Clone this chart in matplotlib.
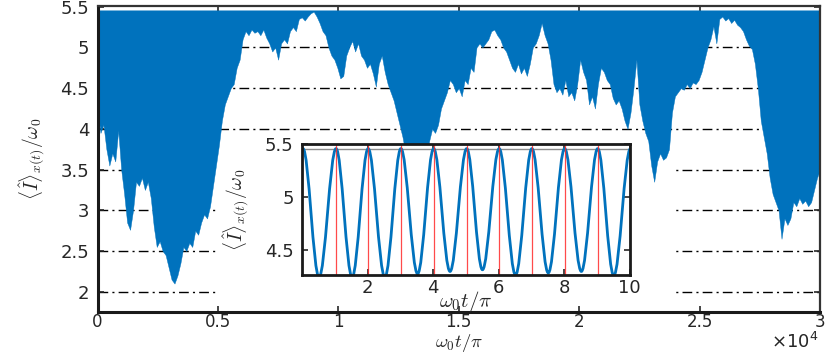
import numpy as np
import matplotlib.pyplot as plt
from matplotlib.path import Path
from matplotlib.patches import PathPatch, Rectangle

# ---------------------------------------------------------------------------
# data
# ---------------------------------------------------------------------------
# main panel: the signal oscillates so fast that it looks like a filled band
# between a (flat) upper level and a ragged lower envelope
t_end = 30000
upper_level = 5.456
lower_env = [
    4.25, 3.95, 4.05, 3.75, 3.55, 3.7, 3.6, 3.98, 3.5, 3.2, 2.85, 2.76,
    3.0, 3.35, 3.3, 3.4, 3.25, 3.35, 3.15, 2.8, 2.55, 2.62, 2.5, 2.45,
    2.3, 2.15, 2.10, 2.2, 2.35, 2.55, 2.5, 2.6, 2.55, 2.75, 2.7, 2.85,
    2.95, 2.9, 3.05, 3.3, 3.55, 3.8, 4.1, 4.3, 4.4, 4.5, 4.55, 4.75,
    4.85, 5.1, 5.2, 5.15, 5.22, 5.18, 5.2, 5.15, 5.22, 5.12, 5.05, 4.95,
    5.0, 4.85, 5.05, 5.1, 5.05, 5.2, 5.25, 5.2, 5.35, 5.37, 5.33, 5.38,
    5.42, 5.44, 5.38, 5.3, 5.2, 5.15, 5.0, 4.9, 4.85, 4.75, 4.62, 4.65,
    4.9, 5.0, 5.08, 4.95, 5.05, 4.9, 4.85, 4.75, 4.8, 4.68, 4.52, 4.8,
    4.9, 4.7, 4.55, 4.45, 4.35, 4.2, 4.05, 3.9, 3.7, 3.5, 3.4, 3.3,
    3.35, 3.3, 3.45, 3.6, 3.85, 4.0, 3.95, 4.05, 4.25, 4.35, 4.45, 4.6,
    4.55, 4.45, 4.5, 4.4, 4.6, 4.55, 4.75, 4.7, 5.0, 5.05, 5.0, 5.05,
    5.1, 5.2, 5.22, 5.15, 5.1, 5.0, 4.95, 4.85, 4.75, 4.7, 4.8, 4.68,
    4.75, 4.65, 4.8, 5.0, 5.05, 5.15, 5.3, 5.15, 5.05, 4.85, 4.55, 4.45,
    4.5, 4.42, 4.6, 4.4, 4.45, 4.35, 4.55, 4.85, 4.7, 4.6, 4.3, 4.4,
    4.25, 4.55, 4.75, 4.7, 4.6, 4.55, 4.38, 4.3, 4.35, 4.25, 4.1, 4.0,
    4.2, 4.5, 4.85, 4.3, 4.1, 3.95, 3.85, 3.55, 3.35, 3.6, 3.7, 3.62,
    3.65, 3.75, 4.2, 4.4, 4.45, 4.5, 4.48, 4.55, 4.5, 4.57, 4.55, 4.6,
    4.7, 4.85, 5.0, 5.1, 5.26, 5.05, 5.35, 5.38, 5.33, 5.36, 5.3, 5.34,
    5.28, 5.25, 5.2, 5.1, 5.02, 4.98, 4.8, 4.5, 4.1, 3.9, 3.7, 3.4,
    3.2, 3.1, 3.0, 2.65, 2.9, 2.82, 2.9, 3.1, 3.05, 3.15, 3.08, 3.12,
    3.05, 3.1, 3.25, 3.4, 3.5,
]
t_env = np.linspace(0, t_end, len(lower_env))

grid_levels = [2, 2.5, 3, 3.5, 4, 4.5, 5]
main_yticks = [2, 2.5, 3, 3.5, 4, 4.5, 5, 5.5]
main_ytick_labels = ['2', '2.5', '3', '3.5', '4', '4.5', '5', '5.5']
main_xticks = [0, 5000, 10000, 15000, 20000, 25000, 30000]
main_xtick_labels = ['0', '0.5', '1', '1.5', '2', '2.5', '3']

# inset: turning points (max / min) of the first ten periods
ext_t = [0.03, 0.52, 1.04, 1.53, 2.02, 2.53, 3.02, 3.53, 4.02, 4.52, 5.03,
         5.51, 6.02, 6.52, 7.02, 7.52, 8.02, 8.53, 9.03, 9.52, 10.03]
ext_v = [5.456, 4.24, 5.456, 4.24, 5.456, 4.24, 5.456, 4.272, 5.456, 4.294, 5.456,
         4.31, 5.456, 4.26, 5.456, 4.28, 5.456, 4.294, 5.456, 4.255, 5.456]
red_t = [1.04, 2.02, 3.02, 4.02, 5.03, 6.02, 7.02, 8.02, 9.03]
inset_xticks = [2, 4, 6, 8, 10]
inset_yticks = [4.5, 5, 5.5]

# ---------------------------------------------------------------------------
# style
# ---------------------------------------------------------------------------
plt.rcParams['font.family'] = 'DejaVu Sans'
plt.rcParams['mathtext.fontset'] = 'cm'
blue = '#0072BD'
ink = '#262626'

fig = plt.figure(figsize=(8.3, 3.54), dpi=100)

# ---------------------------------------------------------------------------
# main panel
# ---------------------------------------------------------------------------
ax = fig.add_axes([97.5 / 830, 1 - 312 / 354, 722.5 / 830, 306 / 354])

for lev in grid_levels:
    ax.axhline(lev, color='black', lw=1.0, dashes=(7, 3, 1.5, 3), zorder=1)

# the region around the inset hides the dash-dot lines
ax.add_patch(Rectangle((5000, 1.7), 19000, 3.75 - 1.7, facecolor='white',
                       edgecolor='none', zorder=1.5))

ax.fill_between(t_env, lower_env, upper_level, color=blue, lw=0.3,
                edgecolor=blue, zorder=2)

ax.set_xlim(0, t_end)
ax.set_ylim(1.751, 5.509)
ax.set_xticks(main_xticks)
ax.set_xticklabels(main_xtick_labels)
ax.set_yticks(main_yticks)
ax.set_yticklabels(main_ytick_labels)
ax.tick_params(direction='in', length=4, width=1.2, colors=ink, labelsize=13,
               top=True, right=True)
ax.tick_params(axis='x', pad=1, labelsize=12)
ax.tick_params(axis='y', pad=6)
for side in ['left', 'bottom']:
    ax.spines[side].set_linewidth(2.2)
    ax.spines[side].set_color('#1a1a1a')
for side in ['top', 'right']:
    ax.spines[side].set_linewidth(1.6)
    ax.spines[side].set_color('#333333')
for side in ax.spines:
    ax.spines[side].set_zorder(5)

ax.set_xlabel(r'$\omega_0 t/\pi$', fontsize=13.5, color=ink)
ax.xaxis.set_label_coords(0.5, -0.1375)
ax.xaxis.label.set_va('bottom')
ax.set_ylabel(r'$\langle\hat{I}\rangle_{x(t)}/\omega_0$', fontsize=14, color=ink)
ax.yaxis.set_label_coords(-0.09, 0.5)
ax.yaxis.label.set_va('center')

fig.text(795 / 830, 1 - 342 / 354, r'$\times\mathregular{10^4}$', fontsize=13,
         color=ink, ha='center', va='center', math_fontfamily='dejavusans')

# ---------------------------------------------------------------------------
# inset
# ---------------------------------------------------------------------------
ins = fig.add_axes([302 / 830, 1 - 274.7 / 354, 327.5 / 830, 130.7 / 354])
ins.set_facecolor('white')

ins.axhline(upper_level, color='#8c8c8c', lw=1.0, zorder=1)

# smooth curve through the turning points (flat tangents at each extremum)
verts = [(ext_t[0], ext_v[0])]
codes = [Path.MOVETO]
for i in range(1, len(ext_t)):
    t0, v0 = ext_t[i - 1], ext_v[i - 1]
    t1, v1 = ext_t[i], ext_v[i]
    dt = t1 - t0
    verts += [(t0 + 0.36 * dt, v0), (t1 - 0.36 * dt, v1), (t1, v1)]
    codes += [Path.CURVE4] * 3
ins.add_patch(PathPatch(Path(verts, codes), facecolor='none', edgecolor=blue,
                        lw=2.0, zorder=2))

for t in red_t:
    ins.axvline(t, color='#ff2a2a', lw=0.9, alpha=0.85, zorder=3)

ins.set_xlim(0, 10)
ins.set_ylim(4.263, 5.5)
ins.set_xticks(inset_xticks)
ins.set_yticks(inset_yticks)
ins.set_yticklabels(['4.5', '5', '5.5'])
ins.tick_params(direction='in', length=4, width=1.2, colors=ink, labelsize=13,
                top=True, right=True)
ins.tick_params(axis='x', pad=3)
ins.tick_params(axis='y', pad=6)
for side in ins.spines:
    ins.spines[side].set_linewidth(2.0)
    ins.spines[side].set_color('#1a1a1a')
    ins.spines[side].set_zorder(5)

ins.set_xlabel(r'$\omega_0 t/\pi$', fontsize=15, color=ink)
ins.xaxis.set_label_coords(0.5, -0.205)
ins.xaxis.label.set_va('center')
ins.set_ylabel(r'$\langle\hat{I}\rangle_{x(t)}/\omega_0$', fontsize=14, color=ink)
ins.yaxis.set_label_coords(-0.2, 0.5)
ins.yaxis.label.set_va('center')

fig.savefig('out.png', dpi=100)
